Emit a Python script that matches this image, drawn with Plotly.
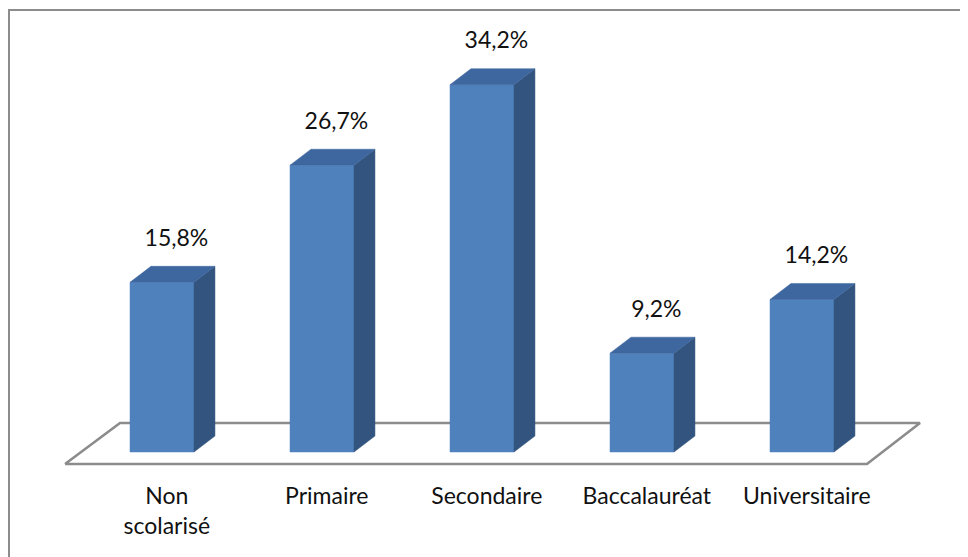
import plotly.graph_objects as go

categories = ["Non<br>scolarisé", "Primaire", "Secondaire", "Baccalauréat", "Universitaire"]
values = [15.8, 26.7, 34.2, 9.2, 14.2]
value_labels = ["15,8%", "26,7%", "34,2%", "9,2%", "14,2%"]

FRONT = "#4F81BD"
TOP = "#3F679F"
SIDE = "#33547E"
FLOOR = "#8C8C8C"
FONT = "Lato"
TEXT = "#111111"

# the page body adds an 8px margin, so the figure is drawn 8px smaller
OFF = 8
W, H = 968 - OFF, 557 - OFF
half = 0.2        # half width of a bar front face (category units)
ddx = 0.131       # depth offset x
ddy = 1.49        # depth offset y (%)

fig = go.Figure()

# floor (parallelogram)
fx = [-0.606, 4.406, 4.7375, -0.2625, -0.606]
fy = [-1.12, -1.12, 2.70, 2.70, -1.12]
fig.add_trace(go.Scatter(x=fx, y=fy, mode="lines", fill="toself", fillcolor="white",
                         line=dict(color=FLOOR, width=2.6), hoverinfo="skip", showlegend=False))

for i, v in enumerate(values):
    # front face
    fig.add_trace(go.Scatter(
        x=[i - half, i + half, i + half, i - half, i - half],
        y=[0, 0, v, v, 0], mode="lines", fill="toself", fillcolor=FRONT,
        line=dict(color=FRONT, width=0.5), hoverinfo="skip", showlegend=False))
    # side face
    fig.add_trace(go.Scatter(
        x=[i + half, i + half + ddx, i + half + ddx, i + half, i + half],
        y=[0, ddy, v + ddy, v, 0], mode="lines", fill="toself", fillcolor=SIDE,
        line=dict(color=SIDE, width=0.5), hoverinfo="skip", showlegend=False))
    # top face
    fig.add_trace(go.Scatter(
        x=[i - half, i + half, i + half + ddx, i - half + ddx, i - half],
        y=[v, v, v + ddy, v + ddy, v], mode="lines", fill="toself", fillcolor=TOP,
        line=dict(color=TOP, width=0.5), hoverinfo="skip", showlegend=False))

# value labels
fig.add_trace(go.Scatter(
    x=[i + 0.09 for i in range(len(values))],
    y=[v + 3.95 for v in values],
    mode="text", text=value_labels, textposition="middle center",
    textfont=dict(family=FONT, size=23, color=TEXT),
    hoverinfo="skip", showlegend=False))

px_per_cat = 160.0
px_per_pct = 10.74
x0_px, y0_px = 162.0 - OFF, 452.0 - OFF
axis_px = 480 - OFF
b_margin = H - axis_px
plot_h = axis_px

fig.update_xaxes(range=[-x0_px / px_per_cat, (W - x0_px) / px_per_cat],
                 tickmode="array", tickvals=[i + 0.03 for i in range(len(categories))],
                 ticktext=categories, showgrid=False, zeroline=False, showline=False,
                 ticks="", tickfont=dict(family=FONT, size=23, color=TEXT),
                 fixedrange=True)
fig.update_yaxes(range=[(y0_px - plot_h) / px_per_pct, y0_px / px_per_pct],
                 visible=False, showgrid=False, zeroline=False, fixedrange=True)

# chart border (left and top visible)
fig.add_shape(type="rect", xref="paper", yref="paper",
              x0=(9 - OFF) / W, x1=1.05, y0=-0.3, y1=1 - (10 - OFF) / plot_h,
              line=dict(color="#8C8C8C", width=2), fillcolor="rgba(0,0,0,0)")

fig.update_layout(width=W, height=H, margin=dict(l=0, r=0, t=0, b=b_margin, pad=0),
                  paper_bgcolor="white", plot_bgcolor="white",
                  font=dict(family=FONT, color=TEXT))

fig.write_html("out.html")
